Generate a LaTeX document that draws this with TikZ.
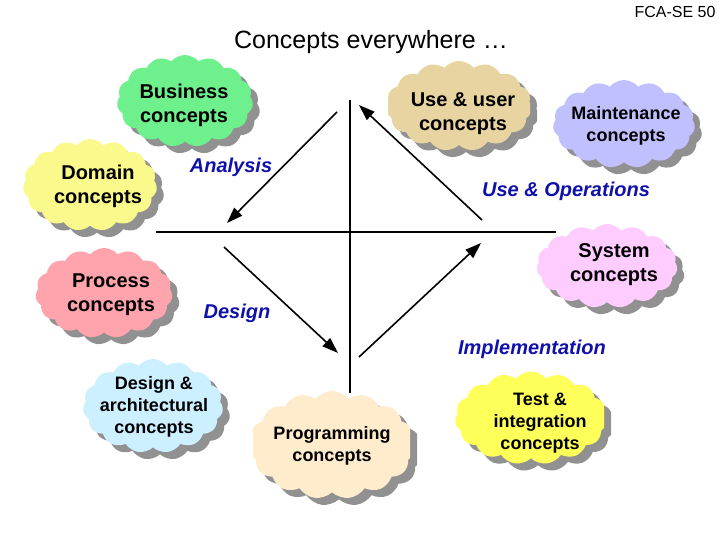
\documentclass[tikz,border=0pt]{standalone}
\usepackage{fontspec}
\setmainfont{Liberation Sans}
\usetikzlibrary{shapes.symbols,arrows.meta}
\definecolor{shadowgray}{RGB}{145,145,145}
\definecolor{phaseblue}{RGB}{16,16,170}
\definecolor{cgreen}{RGB}{110,240,140}
\definecolor{cyellowl}{RGB}{250,250,140}
\definecolor{ctan}{RGB}{232,212,160}
\definecolor{clav}{RGB}{192,192,255}
\definecolor{cpinkl}{RGB}{255,204,255}
\definecolor{cpink}{RGB}{255,164,172}
\definecolor{ccyan}{RGB}{204,240,255}
\definecolor{cpeach}{RGB}{255,236,204}
\definecolor{cyellow}{RGB}{255,255,90}
\begin{document}
\begin{tikzpicture}[x=1pt,y=-1pt,
  cloudbox/.style={cloud, cloud puffs=15, cloud puff arc=100, cloud ignores aspect,
    inner sep=0pt, draw=none},
  cloudshadow/.style={cloudbox, fill=shadowgray},
  bigtext/.style={font=\fontsize{20}{24}\selectfont\bfseries, align=center, inner sep=0pt},
  smalltext/.style={font=\fontsize{18}{22}\selectfont\bfseries, align=center, inner sep=0pt},
  phase/.style={font=\fontsize{20}{24}\selectfont\bfseries\itshape, text=phaseblue, inner sep=0pt},
  flow/.style={line width=1.6pt, -{Triangle[length=16pt,width=11pt]}},
  axisline/.style={line width=2pt}]
\useasboundingbox (0,0) rectangle (720,540);

% axes
\coordinate (vtop) at (350,100);
\coordinate (vbot) at (350,393);
\coordinate (hleft) at (156,232);
\coordinate (hright) at (556,232);
\draw[axisline] (vtop) -- (vbot);
\draw[axisline] (hleft) -- (hright);

% cycle arrows
\coordinate (a1s) at (337,112); \coordinate (a1e) at (227,223);
\coordinate (a2s) at (224,247); \coordinate (a2e) at (338,353);
\coordinate (a3s) at (359,357); \coordinate (a3e) at (481,243);
\coordinate (a4s) at (482,220); \coordinate (a4e) at (359,105);
\draw[flow] (a1s) -- (a1e);
\draw[flow] (a2s) -- (a2e);
\draw[flow] (a3s) -- (a3e);
\draw[flow] (a4s) -- (a4e);

% clouds (shadow first, then fill)
\node[cloudshadow, minimum width=136, minimum height=92] (busc-s) at (192,108) {};
\node[cloudbox, fill=cgreen, minimum width=136, minimum height=92] (busc) at (185,101) {};

\node[cloudshadow, minimum width=134, minimum height=92] (domc-s) at (97,192) {};
\node[cloudbox, fill=cyellowl, minimum width=134, minimum height=92] (domc) at (90,185) {};

\begin{scope}
  \clip (395,40) rectangle (537,170);
  \node[cloudshadow, minimum width=146, minimum height=90] (usec-s) at (466,113) {};
\end{scope}
\begin{scope}
  \clip (388,40) rectangle (530,170);
  \node[cloudbox, fill=ctan, minimum width=146, minimum height=90] (usec) at (459,106) {};
\end{scope}

\node[cloudshadow, minimum width=142, minimum height=88] (mainc-s) at (631,131) {};
\node[cloudbox, fill=clav, minimum width=142, minimum height=88] (mainc) at (624,124) {};

\node[cloudshadow, minimum width=141, minimum height=84] (sysc-s) at (614,273) {};
\node[cloudbox, fill=cpinkl, minimum width=141, minimum height=84] (sysc) at (607,266) {};

\node[cloudshadow, minimum width=137, minimum height=90] (procc-s) at (111,300) {};
\node[cloudbox, fill=cpink, minimum width=137, minimum height=90] (procc) at (104,293) {};

\node[cloudshadow, minimum width=140, minimum height=94] (desc-s) at (160,413) {};
\node[cloudbox, fill=ccyan, minimum width=140, minimum height=94] (desc) at (153,406) {};

\begin{scope}
  \clip (260,380) rectangle (417,520);
  \node[cloudshadow, minimum width=166, minimum height=108] (progc-s) at (339,452) {};
\end{scope}
\begin{scope}
  \clip (253,380) rectangle (410,520);
  \node[cloudbox, fill=cpeach, minimum width=166, minimum height=108] (progc) at (332,445) {};
\end{scope}

\begin{scope}
  \clip (440,350) rectangle (611,490);
  \node[cloudshadow, minimum width=152, minimum height=93] (testc-s) at (538,425) {};
\end{scope}
\begin{scope}
  \clip (440,350) rectangle (604,490);
  \node[cloudbox, fill=cyellow, minimum width=152, minimum height=93] (testc) at (531,418) {};
\end{scope}

% cloud texts
\node[bigtext] (bust) at (184,105) {Business\\concepts};
\node[bigtext] (domt) at (98,186) {Domain\\concepts};
\node[bigtext] (uset) at (463,114) {Use \& user\\concepts};
\node[smalltext] (maint) at (626,126) {Maintenance\\concepts};
\node[bigtext] (syst) at (614,265) {System\\concepts};
\node[bigtext] (proct) at (111,295) {Process\\concepts};
\node[smalltext] (dest) at (154,407) {Design \&\\architectural\\concepts};
\node[smalltext] (progt) at (332,446) {Programming\\concepts};
\node[smalltext] (testt) at (540,423) {Test \&\\integration\\concepts};

% phase labels
\node[phase] (anal) at (231,167) {Analysis};
\node[phase] (useop) at (566,191) {Use \& Operations};
\node[phase] (desl) at (237,313) {Design};
\node[phase] (impl) at (532,349) {Implementation};

% titles
\node[font=\fontsize{25}{30}\selectfont, inner sep=0pt] (title) at (371,42) {Concepts everywhere …};
\node[font=\fontsize{16}{19}\selectfont, inner sep=0pt] (slide) at (675,12) {FCA-SE 50};
\end{tikzpicture}
\end{document}
